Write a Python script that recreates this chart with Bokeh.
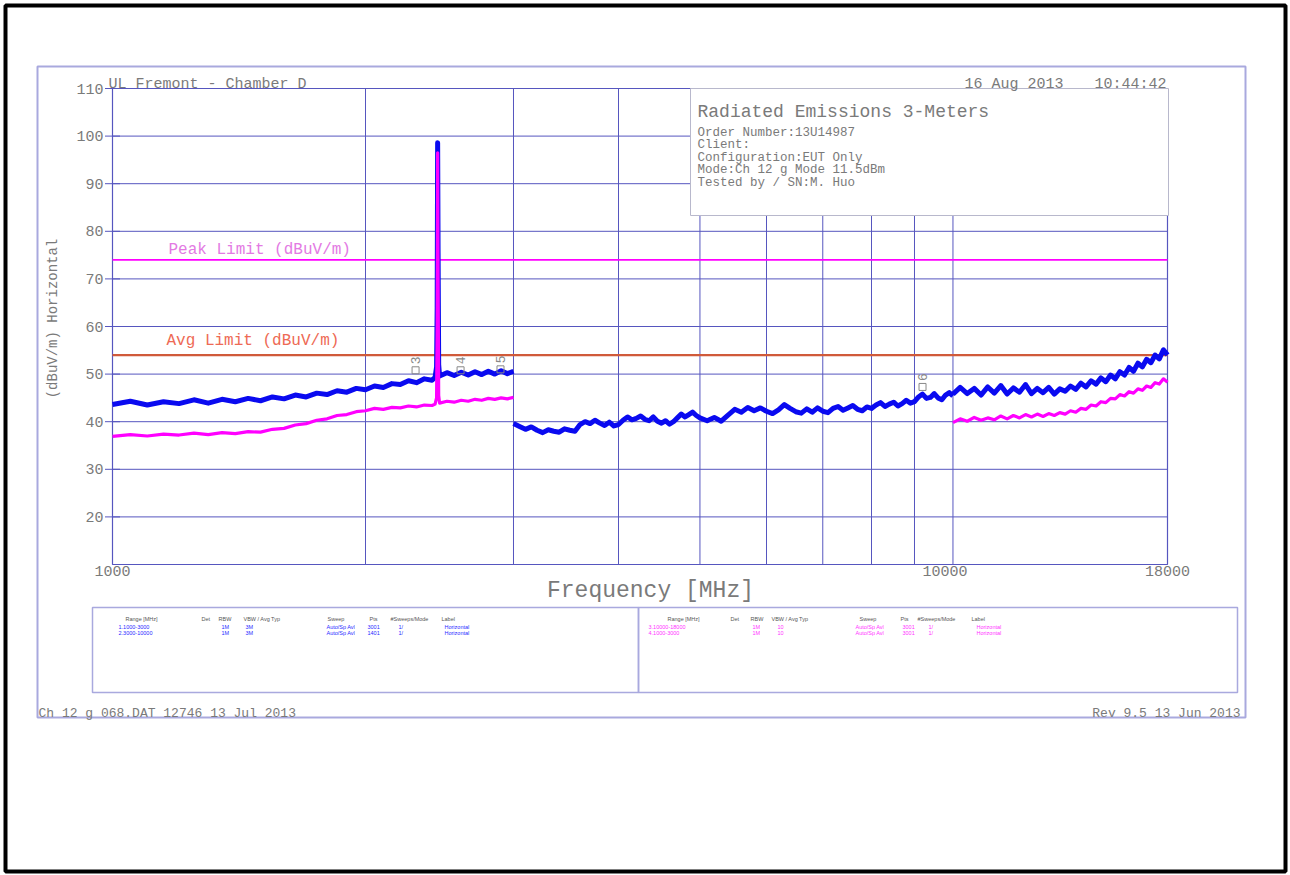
import math
from bokeh.plotting import figure
from bokeh.models import Range1d, LogScale, ColumnDataSource
from bokeh.core.properties import value
from bokeh.embed import file_html
from bokeh.resources import INLINE

# ---------------- data ----------------
freq_1 = [1000, 1050, 1100, 1150, 1200, 1250, 1300, 1350, 1400, 1450,
          1500, 1550, 1600, 1650, 1700, 1750, 1800, 1850, 1900, 1950,
          2000, 2050, 2100, 2150, 2200, 2250, 2300, 2350, 2400,
          2420, 2430, 2434, 2437, 2440, 2444, 2450,
          2500, 2550, 2600, 2650, 2700, 2750, 2800, 2850, 2900, 2950, 3000]
peak_1 = [43.6, 44.3, 43.5, 44.2, 43.8, 44.6, 43.9, 44.7, 44.2, 44.9,
          44.4, 45.2, 44.8, 45.6, 45.2, 46.0, 45.7, 46.5, 46.2, 47.0,
          46.7, 47.5, 47.2, 48.0, 47.8, 48.6, 48.2, 49.0, 48.7,
          49.3, 51.5, 64.0, 98.6, 75.5, 52.0, 49.6,
          50.3, 49.7, 50.4, 49.8, 50.5, 49.9, 50.6, 50.0, 50.7, 50.1, 50.6]
avg_1 = [36.9, 37.3, 37.0, 37.4, 37.2, 37.6, 37.3, 37.7, 37.5, 37.9,
         37.8, 38.4, 38.6, 39.3, 39.6, 40.3, 40.6, 41.3, 41.5, 42.1,
         42.3, 42.8, 42.6, 43.0, 42.9, 43.3, 43.1, 43.5, 43.4,
         43.7, 45.0, 60.0, 96.5, 70.0, 45.5, 43.9,
         44.3, 44.1, 44.5, 44.3, 44.7, 44.5, 44.9, 44.7, 45.0, 44.8, 45.1]

freq_2 = [3000, 3050, 3100, 3150, 3200, 3250, 3300, 3350, 3400, 3450,
          3500, 3550, 3600, 3650, 3700, 3750, 3800, 3850, 3900, 3950,
          4000, 4050, 4100, 4150, 4200, 4250, 4300, 4350, 4400, 4450,
          4500, 4550, 4600, 4650, 4700, 4750, 4800, 4850, 4900, 4950,
          5000,
          5100, 5200, 5300, 5400, 5500, 5600, 5700, 5800, 5900, 6000,
          6100, 6200, 6300, 6400, 6500, 6600, 6700, 6800, 6900, 7000,
          7100, 7200, 7300, 7400, 7500, 7600, 7700, 7800, 7900, 8000,
          8100, 8200, 8300, 8400, 8500, 8600, 8700, 8800, 8900, 9000,
          9100, 9200, 9300, 9400, 9500, 9600, 9700, 9800, 9900, 10000]
peak_2 = [39.6, 39.0, 38.4, 38.9, 38.2, 37.7, 38.3, 38.0, 37.8, 38.5,
          38.2, 38.0, 39.4, 40.0, 39.6, 40.3, 39.7, 39.2, 39.9, 39.1,
          39.4, 40.3, 41.0, 40.4, 40.7, 41.2, 40.5, 40.2, 41.0, 40.1,
          39.7, 40.2, 39.5, 40.0, 40.8, 41.6, 41.0, 41.5, 42.0, 41.3,
          40.8,
          40.2, 40.9, 40.1, 41.4, 42.6, 42.0, 43.0, 42.3, 42.9, 42.2,
          41.7, 42.5, 43.6, 42.8, 42.1, 41.8, 42.7, 42.0, 42.9, 42.2,
          41.9, 42.8, 43.2, 42.4, 42.9, 43.4, 42.6, 42.3, 43.1, 42.8,
          43.5, 44.0, 43.2, 43.7, 44.1, 43.3, 43.8, 44.5, 43.9, 44.2,
          45.2, 45.8, 44.9, 45.1, 45.9, 45.0, 44.6, 45.6, 46.1, 45.4]

freq_3 = [10000, 10200, 10400, 10600, 10800, 11000, 11200, 11400, 11600, 11800,
          12000, 12200, 12400, 12600, 12800, 13000, 13200, 13400, 13600, 13800,
          14000, 14200, 14400, 14600, 14800, 15000, 15200, 15400, 15600, 15800,
          16000, 16200, 16400, 16600, 16800, 17000, 17200, 17400, 17600, 17800,
          18000]
peak_3 = [45.8, 47.2, 45.9, 47.0, 45.6, 47.3, 46.0, 47.6, 45.8, 47.1,
          46.2, 47.8, 45.9, 47.0, 46.1, 47.2, 45.8, 46.9, 46.4, 47.5,
          46.8, 48.1, 47.3, 48.6, 47.9, 49.2, 48.4, 49.8, 49.0, 50.5,
          49.8, 51.4, 50.6, 52.3, 51.5, 53.1, 52.4, 54.0, 53.2, 55.1,
          54.0]
avg_3 = [39.8, 40.6, 40.1, 40.9, 40.3, 40.8, 40.4, 41.2, 40.6, 41.3,
         40.8, 41.5, 41.0, 41.6, 41.1, 41.7, 41.3, 41.9, 41.6, 42.3,
         42.0, 42.8, 42.6, 43.5, 43.3, 44.2, 44.0, 44.9, 44.8, 45.7,
         45.4, 46.3, 46.0, 46.9, 46.6, 47.5, 47.2, 48.2, 47.9, 49.0,
         48.3]

peak_limit = 74
avg_limit = 54

marker_freq = [2294, 2595, 2895, 9200]
marker_level = [50.8, 50.8, 51.0, 47.3]
marker_label = ["3", "4", "5", "6"]

x_lo, x_hi = 1000, 18000
y_lo, y_hi = 10, 110
y_ticks = [20, 30, 40, 50, 60, 70, 80, 90, 100, 110]
x_ticks = [1000, 10000, 18000]
grid_x = [2000, 3000, 4000, 5000, 6000, 7000, 8000, 9000, 10000]
grid_y = [20, 30, 40, 50, 60, 70, 80, 90, 100]

header_left = "UL Fremont - Chamber D"
header_date = "16 Aug 2013"
header_time = "10:44:42"
y_title = "(dBuV/m) Horizontal"
x_title = "Frequency [MHz]"
peak_limit_label = "Peak Limit (dBuV/m)"
avg_limit_label = "Avg Limit (dBuV/m)"
info_title = "Radiated Emissions 3-Meters"
info_lines = ["Order Number:13U14987", "Client:", "Configuration:EUT Only",
              "Mode:Ch 12 g Mode 11.5dBm", "Tested by / SN:M. Huo"]
table_head = ["Range [MHz]", "Det", "RBW", "VBW / Avg Typ", "Sweep", "Pts",
              "#Sweeps/Mode", "Label"]
table_left_rows = [["1.1000-3000", "", "1M", "3M", "Auto/Sp Avl", "3001", "1/", "Horizontal"],
                   ["2.3000-10000", "", "1M", "3M", "Auto/Sp Avl", "1401", "1/", "Horizontal"]]
table_right_rows = [["3.10000-18000", "", "1M", "10", "Auto/Sp Avl", "3001", "1/", "Horizontal"],
                    ["4.1000-3000", "", "1M", "10", "Auto/Sp Avl", "3001", "1/", "Horizontal"]]
footer_left = "Ch 12 g 068.DAT 12746 13 Jul 2013"
footer_right = "Rev 9.5 13 Jun 2013"

# ---------------- layout / style ----------------
W, H = 1290, 875
LX, RX, TY, BY = 112, 1167, 88, 564       # chart box on the page (px)
GRID = "#5656bf"
TXT = "#7a7a7a"
FONT = "Liberation Mono"
BLUE = "#0a0af0"
MAG = "#ff00ff"
LAV = "#a9a9de"

# page canvas in pixel units (y downwards); chart uses extra log/linear ranges
lg = math.log10(x_hi / x_lo)
f_start = 10 ** (math.log10(x_lo) - LX / (RX - LX) * lg)
f_end = 10 ** (math.log10(x_hi) + (W - RX) / (RX - LX) * lg)
d_start = y_lo - (H - BY) / (BY - TY) * (y_hi - y_lo)
d_end = y_hi + TY / (BY - TY) * (y_hi - y_lo)

p = figure(width=W, height=H, x_range=Range1d(0, W), y_range=Range1d(H, 0),
           x_axis_location=None, y_axis_location=None, min_border=0,
           output_backend="svg", toolbar_location=None, title=None)
p.outline_line_color = None
p.background_fill_color = "white"
p.border_fill_color = "white"
p.grid.visible = False
p.extra_x_ranges = {"freq": Range1d(f_start, f_end)}
p.extra_x_scales = {"freq": LogScale()}
p.extra_y_ranges = {"db": Range1d(d_start, d_end)}
C = dict(x_range_name="freq", y_range_name="db")

# ---- chart grid & frame ----
p.segment(x0=grid_x, x1=grid_x, y0=[y_lo] * len(grid_x), y1=[y_hi] * len(grid_x),
          line_color=GRID, line_width=1, **C)
p.segment(x0=[x_lo] * len(grid_y), x1=[x_hi] * len(grid_y), y0=grid_y, y1=grid_y,
          line_color=GRID, line_width=1, **C)
p.quad(left=[x_lo], right=[x_hi], bottom=[y_lo], top=[y_hi], fill_color=None,
       line_color=GRID, line_width=1.2, **C)
# y ticks & labels
p.scatter(x=[x_lo] * len(y_ticks), y=y_ticks, marker="dash", size=15,
          line_color=GRID, line_width=1, **C)
p.text(x=[x_lo] * len(y_ticks), y=y_ticks, text=[str(t) for t in y_ticks],
       x_offset=-9, text_align="right", text_baseline="middle",
       text_font=value(FONT), text_font_size="15px", text_color=TXT, **C)
# x tick labels
p.text(x=x_ticks, y=[y_lo] * len(x_ticks), text=[str(t) for t in x_ticks],
       x_offset=[0, -8, 0], y_offset=1, text_align="center", text_baseline="top",
       text_font=value(FONT), text_font_size="15px", text_color=TXT, **C)

# limit lines
p.segment(x0=[x_lo], x1=[x_hi], y0=[peak_limit], y1=[peak_limit],
          line_color=MAG, line_width=1.6, **C)
p.segment(x0=[x_lo], x1=[x_hi], y0=[avg_limit], y1=[avg_limit],
          line_color="#d05a3a", line_width=2.2, **C)

# traces
for fx, fy in ((freq_1, peak_1), (freq_2, peak_2), (freq_3, peak_3)):
    p.line(fx, fy, line_color=BLUE, line_width=5, line_join="round", **C)
for fx, fy in ((freq_1, avg_1), (freq_3, avg_3)):
    p.line(fx, fy, line_color=MAG, line_width=3.2, line_join="round", **C)

# markers
msrc = ColumnDataSource(dict(x=marker_freq, y=marker_level, t=marker_label))
p.scatter("x", "y", source=msrc, marker="square", size=7, fill_color=None,
          line_color="#888888", line_width=1, **C)
p.text("x", "y", text="t", source=msrc, angle=math.pi / 2, y_offset=-6,
       text_font=value(FONT), text_font_size="13px", text_color="#888888",
       text_align="left", text_baseline="middle", **C)


# ---- page decorations (pixel units) ----
def ptext(x, y, txt, size, color, align="left", baseline="alphabetic",
          font=FONT, angle=0.0):
    p.text(x=[x], y=[y], text=[txt], angle=angle, text_align=align,
           text_baseline=baseline, text_font=value(font),
           text_font_size=f"{size}px", text_color=color)


def pbox(x0, y0, x1, y1, color, width, fill=None):
    p.quad(left=[x0], right=[x1], top=[y0], bottom=[y1], fill_color=fill,
           line_color=color, line_width=width)


# limit labels
ptext(168, 249, peak_limit_label, 16, "#e37ae3")
ptext(166, 340, avg_limit_label, 16, "#ee6a55")

# info box
pbox(690, 88, 1168, 215, "#b8b8cc", 1, fill="white")
ptext(697, 111, info_title, 18, TXT)
for i, line in enumerate(info_lines):
    ptext(697, 132 + i * 12.6, line, 12.5, TXT)

# header and axis titles
ptext(108, 84, header_left, 15, TXT)
ptext(1063, 84, header_date, 15, TXT, align="right")
ptext(1166, 84, header_time, 15, TXT, align="right")
ptext(52, 318, y_title, 14, TXT, align="center", baseline="middle",
      angle=math.pi / 2)
ptext(650, 590, x_title, 23, TXT, align="center", baseline="middle")

# outer frame boxes
pbox(37, 66, 1245, 717, LAV, 2)
pbox(92, 607, 638, 692, LAV, 1.5)
pbox(638, 607, 1237, 692, LAV, 1.5)

# tables
left_head_x = [125, 201, 218, 243, 327, 369, 390, 441]
left_row_x = [118, 0, 221, 245, 326, 367, 398, 444]
right_head_x = [667, 730, 750, 771, 859, 900, 917, 971]
right_row_x = [648, 0, 752, 777, 855, 902, 928, 976]
for hx, rx, rows, col in ((left_head_x, left_row_x, table_left_rows, "#2a2aff"),
                          (right_head_x, right_row_x, table_right_rows, "#ff33ff")):
    for c, h in zip(hx, table_head):
        ptext(c, 618, h, 5.5, "#555555", font="Liberation Sans")
    for r, row in enumerate(rows):
        for c, t in zip(rx, row):
            if t:
                ptext(c, 626 + r * 6.5, t, 5.5, col, font="Liberation Sans")

# footer
ptext(38, 713, footer_left, 13, TXT)
ptext(1240, 713, footer_right, 13, TXT, align="right")

# page border
pbox(5, 5, 1285, 871, "black", 4)

open("out.html", "w").write(file_html(p, INLINE))
